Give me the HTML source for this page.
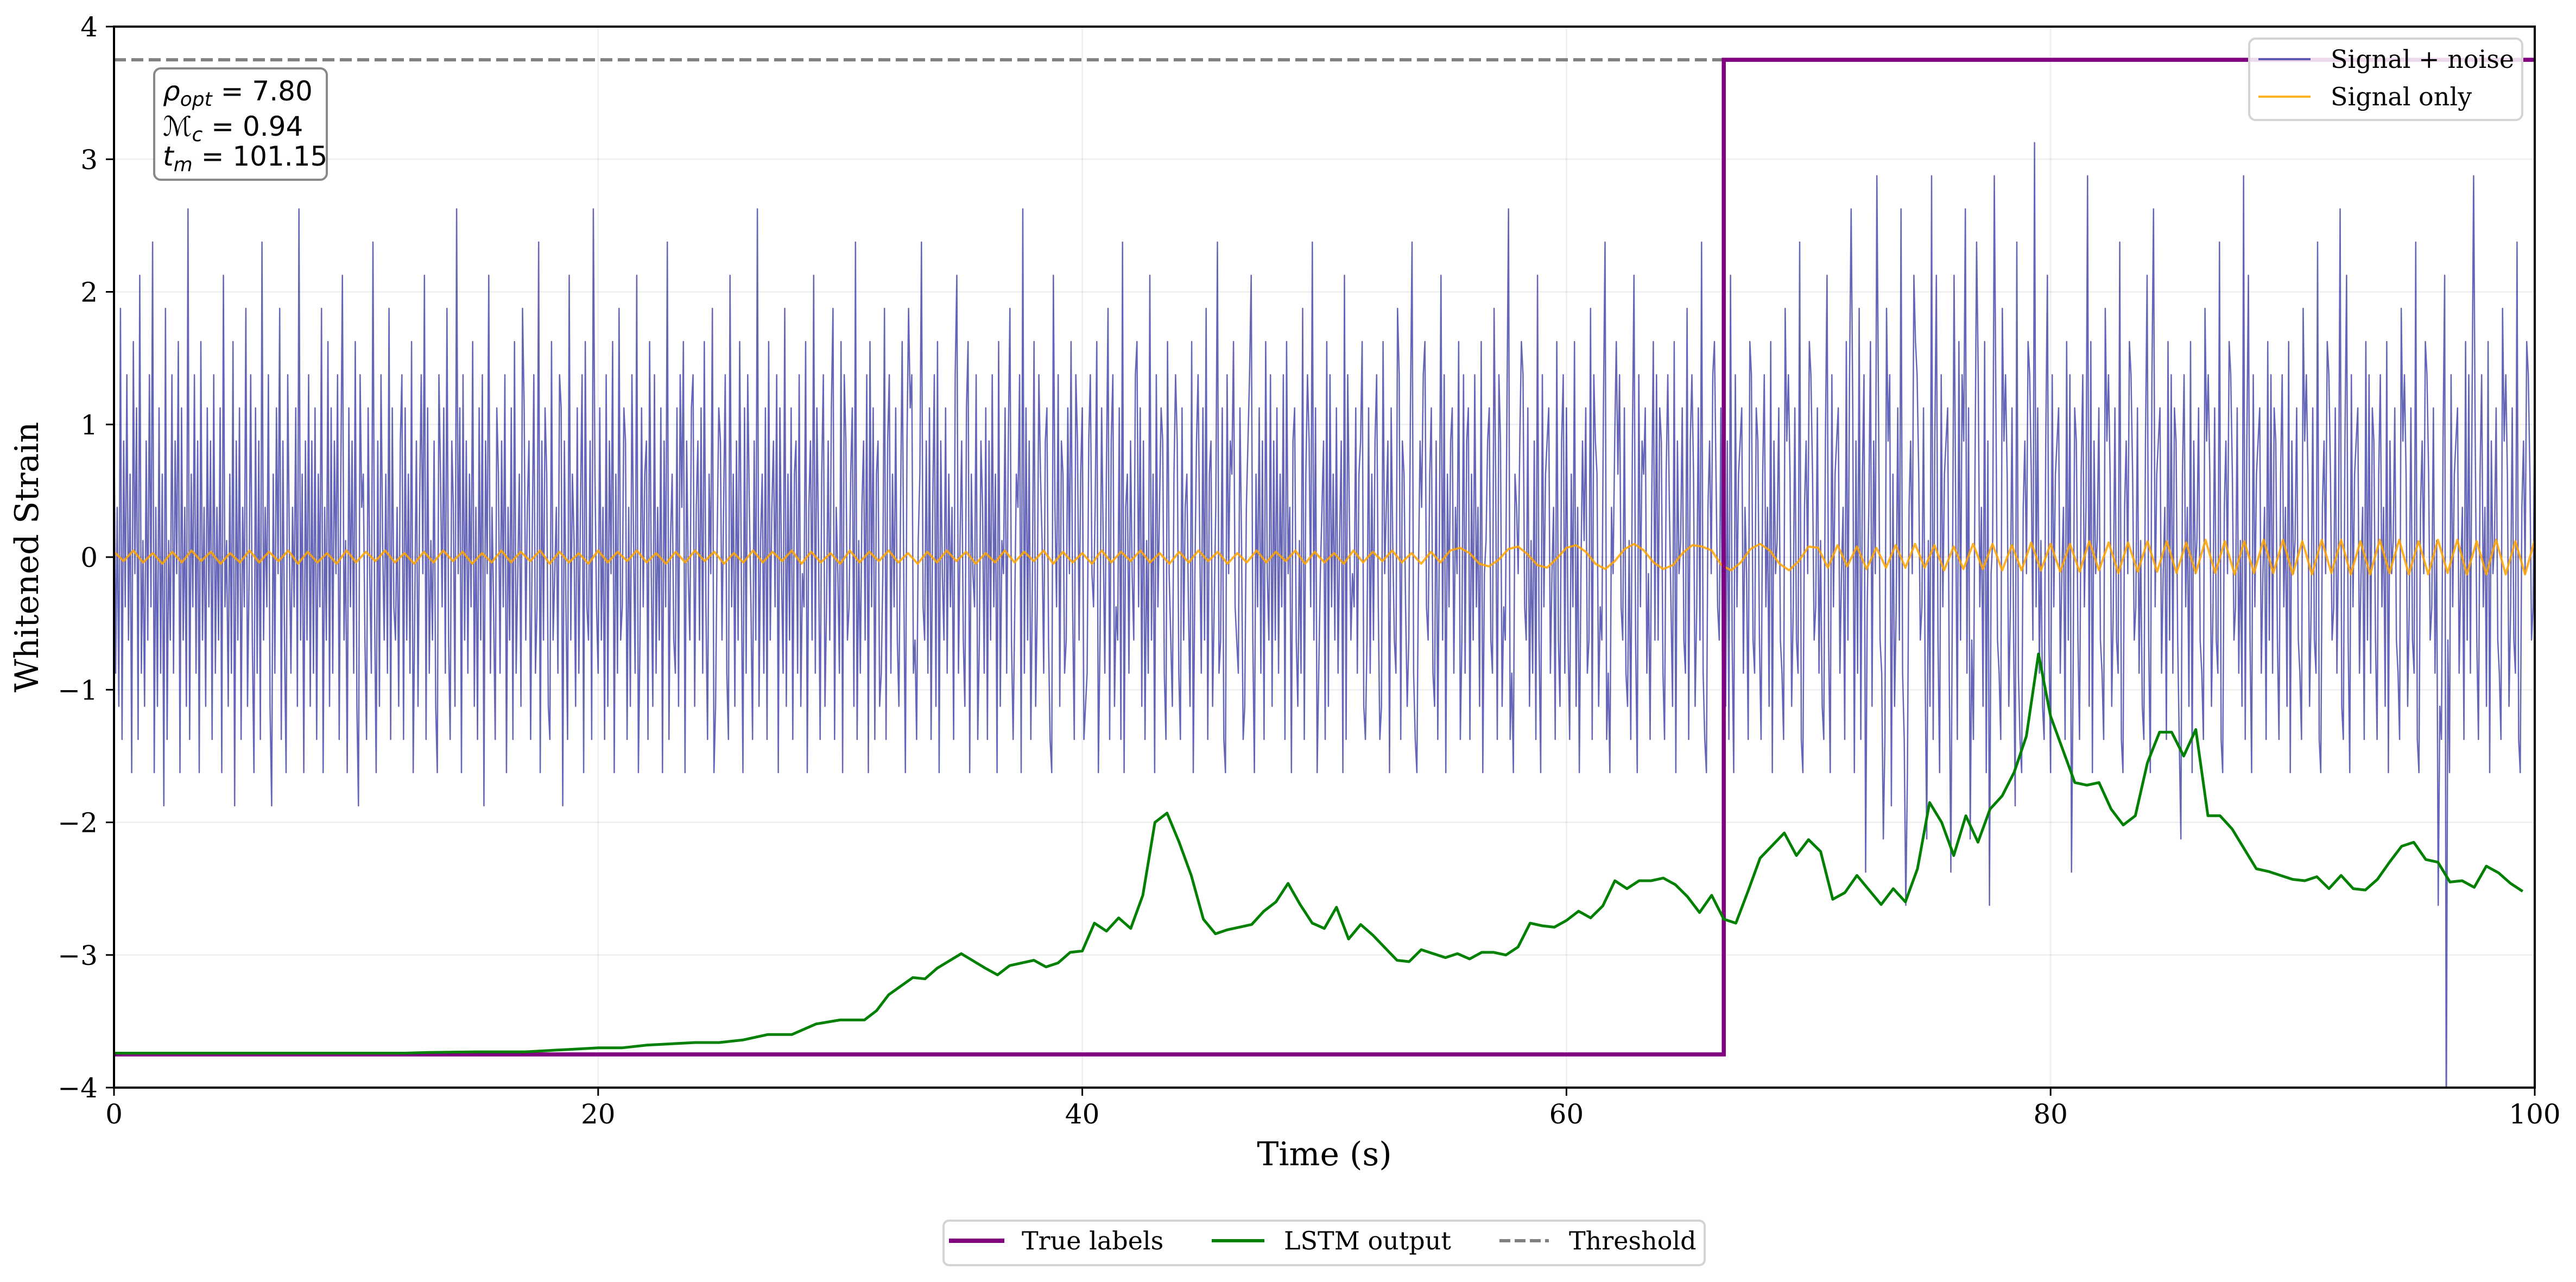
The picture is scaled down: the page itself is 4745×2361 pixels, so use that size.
<!DOCTYPE html>
<html><head><meta charset="utf-8">
<style>
html,body{margin:0;padding:0;background:#fff;}
svg{display:block;}
</style></head>
<body>
<svg id="chart" xmlns="http://www.w3.org/2000/svg" width="4745" height="2361" viewBox="0 0 4745 2361" font-family="'DejaVu Serif','Liberation Serif',serif">
<defs><clipPath id="plotclip"><rect x="210" y="49" width="4459" height="1954"/></clipPath></defs>
</svg>
<script>
// ---- data ----
const xTicks = [0, 20, 40, 60, 80, 100];
const yTicks = [-4, -3, -2, -1, 0, 1, 2, 3, 4];
// noise samples, one character per sample: a=-3.125 ... z=+3.125 in 0.25 steps, '#' = -4.4
const noiseCodes = [
"rjoiuhqlskpgtmrhvjniqkslwgoirjpfuhnksjqmtgrkoixhplsjqgtkoirl",
"qhsjokrgvlnipjtfqkrholuimskgrjqhwkolsifpjrmuhqkgsnjolrixkpgq",
"ksiqjrhplugoktirjqmshpvkngrlqjtifsopkhrmjwlgqisnkpjuhrlkoiqs",
"hrkpjtglqiosmvhrjnkqigsplrjukhqoixmrgskqjpltiohrksfqmvjolhrp",
"jqlsgokrhtjmpiurkoqhnsjlwgqkrpihtkmojsrfqlhvkpnirjosgtlkqhxp",
"ljrkohsiqmtgpjuklrqhoisnjvgkrlpqhtmisjokrgqlwhnpkjrisotgqmkr",
"sioqkrjtlhpmuginrqkosjhvlpiqktmgrjsolhqkxinpjrhtkoqlsgrmjuip",
"krhpqjsimltgoqkvjrnhpsilqkruhomjtgsqklpriwhnjoqksgtlrhpqijmu",
"hqsjplrkiotmgqursjkhnpwlkqjrhositgqmkrjplohsvjnqkirtgpmlshkq",
"ojrhqkslpgtinmrjqukhlposgxjrkqhmtilspnjqrkhgvolsiqpjkrmtlhsq",
"kprhijqsmlotgkrnjpuhqsilkrhwgopjqmkstlriqhnjvkpgslorqjhtmkip",
"sqjhrkoplitgmqsnjrkuhpqilowjkrhgsmqptlkjrnhioqsvkgplrjqhtmks",
"iqkrjplshtmogqrkinjuhpsqlwkrgjmoqhtislpkrjnqgvhsokmlrjpqtihk",
"rjpkqslhitmoqgrnkjushqplikrwjhgmqostlkprjiqhnvksgplqrjomthks",
"jqrhpksloitgmnqrkjuphsqilkrxhjgpomqtslkrinjqhvkgslpqrjmohtki",
"qsjrkhpltiogmqnrjkuhsqpilkrwhjgomqtpslkrjinhqvkgslqprjmhotks",
"krqjhpsolitgqmnrkjuhqspilrkwjhgoqmstplkrjniqhvkgslpqrjomhtsk",
"jrqkhpsloitgqmnrkjhuqspilrkjwhgoqmtspklrjnihqvkgslpqrjmohtks",
"xrgqjuhpsdlotiqmyrkjehuqsfpilrkxjhcgoqmvtspklrjeniyhqvkgslpqr",
"jdmvohtksqxjrekhpwsloitgqcmnyrkjhuqspilrkfwjhgoqmtspkzlrjnihq",
"vkgslpqrjmohtksdjrqkhpsloyitgqmnrkjhuqspilrkjwhgoqmtspklrjnih",
"qvkgsxlpqrjmohtksjrqkhepsloitgqmnrkjhuqspilrkjwhgoqmtspklrjni",
"yhqvkgslpqrjmohtksjrqkhpsloitgqmnrkjhuqspilrkjwhgoqmtspklrjnx",
"ihqvkgslpqrjmohtksjrqkhpsloitgqmnrkjhuqspilrkjwhgoqmtspklrjn",
"cihqv#kgslpqrjmohtksjryqkhpsloitgqmnrkjhuqspilrkjwhgoqmtspklr"
].join('');
const noiseValues = Array.from(noiseCodes).map(c => c === '#' ? -4.4 : (c.charCodeAt(0) - 97) * 0.25 - 3.125);
const signalStep = 0.4;
const signalValues = [
0.04,-0.03,0.05,-0.04,0.03,-0.05,0.04,-0.04,0.05,-0.03,0.04,-0.05,0.03,-0.04,0.05,-0.04,0.04,-0.03,0.05,-0.05,
0.04,-0.04,0.03,-0.05,0.05,-0.04,0.04,-0.03,0.05,-0.04,0.03,-0.05,0.04,-0.04,0.05,-0.03,0.04,-0.05,0.03,-0.04,
0.05,-0.04,0.04,-0.03,0.05,-0.05,0.04,-0.04,0.03,-0.05,0.05,-0.04,0.04,-0.03,0.05,-0.04,0.03,-0.05,0.04,-0.04,
0.05,-0.03,0.04,-0.05,0.03,-0.04,0.05,-0.04,0.04,-0.03,0.05,-0.05,0.04,-0.04,0.03,-0.05,0.05,-0.04,0.04,-0.03,
0.05,-0.04,0.03,-0.05,0.04,-0.04,0.05,-0.03,0.04,-0.05,0.03,-0.04,0.05,-0.04,0.04,-0.03,0.05,-0.05,0.04,-0.04,
0.03,-0.05,0.05,-0.04,0.04,-0.03,0.05,-0.04,0.03,-0.05,0.04,-0.04,0.05,-0.03,0.04,-0.05,0.03,-0.04,0.05,-0.04,
0.04,-0.03,0.05,-0.05,0.04,-0.04,0.03,-0.05,0.05,-0.04,0.04,-0.03,0.05,-0.04,0.03,-0.05,0.04,-0.04,
0.05,0.07,0.03,-0.05,-0.07,-0.02,0.06,0.08,0.02,-0.06,-0.08,-0.01,0.07,
0.09,0.04,-0.05,-0.09,-0.03,0.06,0.1,0.05,-0.04,-0.09,-0.06,0.03,0.09,0.08,0.05,-0.06,-0.1,-0.04,0.06,0.1,0.05,-0.05,-0.1,-0.03,0.08,
0.07,-0.08,0.09,-0.07,0.08,-0.09,0.07,-0.08,0.09,-0.08,0.1,-0.08,0.09,-0.1,0.08,-0.09,0.1,-0.09,0.1,-0.1,
0.09,-0.1,0.11,-0.1,0.1,-0.11,0.1,-0.11,0.12,-0.1,0.11,-0.12,0.11,-0.11,0.12,-0.11,0.12,-0.12,0.11,-0.12,
0.13,-0.12,0.12,-0.13,0.12,-0.12,0.13,-0.12,0.13,-0.13,0.12,-0.13,0.13,-0.12,0.13,-0.13,0.12,-0.13,0.13,-0.12,
0.13,-0.13,0.12,-0.13,0.13,-0.12,0.13,-0.13,0.12,-0.13,0.13,-0.13,0.12,-0.13,0.13
];
const lstmTimes = [0,12,13,15,17,18,19,20,21,22,23,24,25,26,27,28,29,30,31,31.5,32,33,33.5,34,35,36,36.5,37,38,38.5,39,39.5,40,40.5,41,41.5,42,42.5,43,43.5,44,44.5,45,45.5,46,47,47.5,48,48.5,49,49.5,50,50.5,51,51.5,52,53,53.5,54,55,55.5,56,56.5,57,57.5,58,58.5,59,59.5,60,60.5,61,61.5,62,62.5,63,63.5,64,64.5,65,65.5,66,66.5,67,67.5,68,69,69.5,70,70.5,71,71.5,72,73,73.5,74,74.5,75,75.5,76,76.5,77,77.5,78,78.5,79,79.5,80,80.5,81,81.5,82,82.5,83,83.5,84,84.5,85,85.5,86,86.5,87,87.5,88,88.5,89,89.5,90,90.5,91,91.5,92,92.5,93,93.5,94,94.5,95,95.5,96,96.5,97,97.5,98,98.5,99,99.5];
const lstmValues = [-3.74,-3.74,-3.735,-3.73,-3.73,-3.72,-3.71,-3.70,-3.70,-3.68,-3.67,-3.66,-3.66,-3.64,-3.60,-3.60,-3.52,-3.49,-3.49,-3.42,-3.30,-3.17,-3.18,-3.10,-2.99,-3.10,-3.15,-3.08,-3.04,-3.09,-3.06,-2.98,-2.97,-2.76,-2.82,-2.72,-2.80,-2.55,-2.00,-1.93,-2.15,-2.40,-2.73,-2.84,-2.81,-2.77,-2.67,-2.60,-2.46,-2.62,-2.76,-2.80,-2.64,-2.88,-2.77,-2.85,-3.04,-3.05,-2.96,-3.02,-2.99,-3.03,-2.98,-2.98,-3.00,-2.94,-2.76,-2.78,-2.79,-2.74,-2.67,-2.72,-2.63,-2.44,-2.50,-2.44,-2.44,-2.42,-2.47,-2.56,-2.68,-2.55,-2.73,-2.76,-2.52,-2.27,-2.08,-2.25,-2.13,-2.22,-2.58,-2.53,-2.40,-2.62,-2.50,-2.60,-2.35,-1.85,-2.00,-2.25,-1.95,-2.15,-1.90,-1.80,-1.62,-1.35,-0.73,-1.20,-1.45,-1.70,-1.72,-1.70,-1.90,-2.02,-1.95,-1.55,-1.32,-1.32,-1.50,-1.30,-1.95,-1.95,-2.05,-2.20,-2.35,-2.37,-2.40,-2.43,-2.44,-2.41,-2.50,-2.40,-2.50,-2.51,-2.43,-2.30,-2.18,-2.15,-2.28,-2.30,-2.45,-2.44,-2.49,-2.33,-2.38,-2.46,-2.52];
const labelTimes = [0, 66.5, 66.5, 100];
const labelValues = [-3.75, -3.75, 3.75, 3.75];
const thresholdValue = 3.75;

// ---- axes ----
const NS = 'http://www.w3.org/2000/svg';
const svg = document.getElementById('chart');
const L = 210, R = 4669, T = 49, B = 2003;
const xMin = 0, xMax = 100, yMin = -4, yMax = 4;
function xs(t){ return L + (t - xMin) / (xMax - xMin) * (R - L); }
function ys(v){ return B - (v - yMin) / (yMax - yMin) * (B - T); }
function mk(tag, attrs, parent){
  const e = document.createElementNS(NS, tag);
  for (const k in attrs) e.setAttribute(k, attrs[k]);
  (parent || svg).appendChild(e);
  return e;
}
function fmt(v){ return v < 0 ? '\u2212' + Math.abs(v) : String(v); }

const bg = mk('rect', {x:0, y:0, width:4745, height:2361, fill:'#fff'});



const grid = mk('g', {stroke:'#000', 'stroke-opacity':0.06, 'stroke-width':3});


xTicks.forEach(t => {
  const g = mk('line', {x1:xs(t), x2:xs(t), y1:T, y2:B}, grid);
  
  
});
yTicks.forEach(v => {
  const g = mk('line', {x1:L, x2:R, y1:ys(v), y2:ys(v)}, grid);
  
  
});

const plot = mk('g', {'clip-path':'url(#plotclip)'});



const noiseStep = 100 / (noiseValues.length - 1);
const nPts = noiseValues.map((v, i) => xs(i * noiseStep).toFixed(1) + ',' + ys(v).toFixed(1)).join(' ');
const noise = mk('polyline', {points:nPts, fill:'none', stroke:'#00008b', 'stroke-opacity':0.6, 'stroke-width':2.5, 'stroke-linejoin':'round'}, plot);



const sPts = signalValues.map((v, i) => xs(i * signalStep).toFixed(1) + ',' + ys(v).toFixed(1)).join(' ');
const sig = mk('polyline', {points:sPts, fill:'none', stroke:'#ffa500', 'stroke-opacity':0.85, 'stroke-width':4, 'stroke-linejoin':'round'}, plot);



const thr = mk('line', {x1:L, x2:R, y1:ys(thresholdValue), y2:ys(thresholdValue), stroke:'#808080', 'stroke-width':6, 'stroke-dasharray':'22,10'}, plot);



const lPts = labelTimes.map((t, i) => xs(t).toFixed(1) + ',' + ys(labelValues[i]).toFixed(1)).join(' ');
const lab = mk('polyline', {points:lPts, fill:'none', stroke:'#800080', 'stroke-width':7.5}, plot);



const gPts = lstmTimes.map((t, i) => xs(t).toFixed(1) + ',' + ys(lstmValues[i]).toFixed(1)).join(' ');
const lstm = mk('polyline', {points:gPts, fill:'none', stroke:'#008000', 'stroke-width':5, 'stroke-linejoin':'round'}, plot);



const frame = mk('rect', {x:L, y:T, width:R-L, height:B-T, fill:'none', stroke:'#000', 'stroke-width':4});



xTicks.forEach(t => {
  const tk = mk('line', {x1:xs(t), x2:xs(t), y1:B, y2:B+15, stroke:'#000', 'stroke-width':3});
  
  
  const tl = mk('text', {x:xs(t), y:2069, 'text-anchor':'middle', 'font-size':50, fill:'#000'});
  tl.textContent = fmt(t);
  
  
});
yTicks.forEach(v => {
  const tk = mk('line', {x1:L-15, x2:L, y1:ys(v), y2:ys(v), stroke:'#000', 'stroke-width':3});
  
  
  const tl = mk('text', {x:180, y:ys(v)+18, 'text-anchor':'end', 'font-size':50, fill:'#000'});
  tl.textContent = fmt(v);
  
  
});

const xt = mk('text', {x:(L+R)/2, y:2146, 'text-anchor':'middle', 'font-size':60, fill:'#000'});
xt.textContent = 'Time (s)';


const yt = mk('text', {x:0, y:0, 'text-anchor':'middle', 'font-size':60, fill:'#000', transform:'translate(70,1026) rotate(-90)'});
yt.textContent = 'Whitened Strain';



const pbox = mk('rect', {x:284, y:126, width:318, height:205, rx:12, fill:'#fff', 'fill-opacity':0.85, stroke:'#888', 'stroke-width':4});


const pg = mk('g', {'font-family':"'DejaVu Sans','Liberation Sans',sans-serif", 'font-size':50, fill:'#000'});


pg.innerHTML =
 '<text x="300" y="185"><tspan font-style="italic">ρ</tspan><tspan font-style="italic" font-size="36" dy="10">opt</tspan><tspan dy="-10"> = 7.80</tspan></text>' +
 '<text x="300" y="250"><tspan font-style="italic">ℳ</tspan><tspan font-style="italic" font-size="36" dy="10">c</tspan><tspan dy="-10"> = 0.94</tspan></text>' +
 '<text x="300" y="305"><tspan font-style="italic">t</tspan><tspan font-style="italic" font-size="36" dy="10">m</tspan><tspan dy="-10"> = 101.15</tspan></text>';

const lg1 = mk('g', {});


mk('rect', {x:4143, y:71, width:503, height:150, rx:12, fill:'#fff', 'fill-opacity':0.85, stroke:'#d4d4d4', 'stroke-width':4}, lg1);
mk('line', {x1:4160, x2:4256, y1:109, y2:109, stroke:'#00008b', 'stroke-opacity':0.6, 'stroke-width':4}, lg1);
mk('line', {x1:4160, x2:4256, y1:178, y2:178, stroke:'#ffa500', 'stroke-opacity':0.85, 'stroke-width':4}, lg1);
const e1 = mk('text', {x:4293, y:125, 'font-size':46, fill:'#000'}, lg1);
e1.textContent = 'Signal + noise';


const e2 = mk('text', {x:4293, y:194, 'font-size':46, fill:'#000'}, lg1);
e2.textContent = 'Signal only';



const lg2 = mk('g', {});


mk('rect', {x:1738, y:2248, width:1402, height:82, rx:10, fill:'#fff', stroke:'#d4d4d4', 'stroke-width':4}, lg2);
mk('line', {x1:1748, x2:1850, y1:2285, y2:2285, stroke:'#800080', 'stroke-width':8}, lg2);
mk('line', {x1:2232, x2:2329, y1:2285, y2:2285, stroke:'#008000', 'stroke-width':6}, lg2);
mk('line', {x1:2762, x2:2853, y1:2285, y2:2285, stroke:'#808080', 'stroke-width':6, 'stroke-dasharray':'20,8'}, lg2);
const b1 = mk('text', {x:1882, y:2301, 'font-size':46, fill:'#000'}, lg2);
b1.textContent = 'True labels';


const b2 = mk('text', {x:2365, y:2301, 'font-size':46, fill:'#000'}, lg2);
b2.textContent = 'LSTM output';


const b3 = mk('text', {x:2890, y:2301, 'font-size':46, fill:'#000'}, lg2);
b3.textContent = 'Threshold';


</script>
</body></html>
